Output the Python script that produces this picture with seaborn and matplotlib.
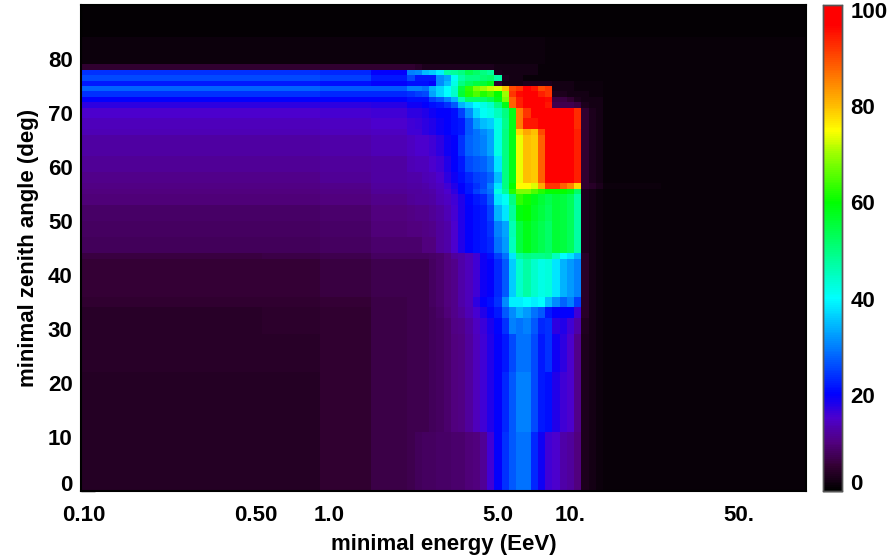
import numpy as np
import pandas as pd
import matplotlib.pyplot as plt
import matplotlib.transforms as mtrans
from matplotlib.colors import LinearSegmentedColormap
import seaborn as sns

# lower edge of each energy bin (EeV), the wide ones are the flat parts of the map
energy_low = [0.1, 0.282, 0.562, 0.977, 1.58,
              2.239, 2.399, 2.570, 2.754, 2.951, 3.162, 3.388, 3.631, 3.890, 4.169,
              4.467, 4.786, 5.129, 5.495, 5.888, 6.310, 6.761, 7.244, 7.762, 8.318,
              8.913, 9.550, 10.23, 10.96, 11.75, 12.59, 13.49, 14.45, 25.1]

# lower edge of each zenith band (deg), one row list per band below
zenith_low = [0, 11, 22, 29, 32, 34, 36, 43, 44, 47, 50, 53, 55, 56, 57, 59, 62, 66,
              67, 69, 71, 72, 73, 74, 75, 76, 77, 78, 79, 84]

z00 = [3.8, 3.6, 3.8, 5, 6.5, 7, 7.5, 8, 8, 8.5, 8.5, 9, 9, 9.5, 10, 11.5, 16, 20, 24, 27, 29, 29, 23, 19, 16, 15, 13, 12, 10, 3, 2, 1.5, 1, 0.8]
z11 = [3.7, 3.6, 3.9, 5, 6.5, 7, 7, 7, 7.5, 8, 9, 10, 10.5, 12, 14, 16, 18, 20, 23, 27, 30, 30, 26, 22, 21, 18, 16, 15, 11, 3, 2, 1.5, 1, 0.8]
z22 = [4, 4, 4.2, 5, 6.5, 7, 7, 7, 7.5, 8, 9, 10, 10.5, 12, 14, 16, 18, 20, 22, 26, 29, 29, 26, 22, 24, 19, 17, 15, 11, 3, 2, 1.5, 1, 0.8]
z29 = [4.3, 4.2, 4.5, 5, 6.5, 7, 7, 7, 7.5, 8, 9, 10.5, 11, 12.5, 14.5, 16.5, 18.5, 20.5, 24, 30, 29, 30, 27, 23, 24, 17, 18, 16, 13, 3.5, 2, 1.5, 1, 0.8]
z32 = [4.3, 4.2, 4.5, 5, 6.5, 7, 7, 7, 7.5, 8.5, 9.5, 11, 12, 13.5, 15.5, 18, 20, 22, 27, 31, 34, 32, 29, 27, 22, 20, 20, 20, 16, 4, 2, 1.5, 1, 0.8]
z34 = [5, 5, 5, 5.5, 6.5, 7, 7, 7, 8, 9, 10, 11, 13, 14, 17, 20, 21, 24, 31, 39, 39, 40, 39, 40, 35, 31, 28, 30, 25, 4, 2, 1.5, 1, 0.8]
z36 = [5.5, 5.5, 5.5, 6, 7, 7, 7, 7, 8, 9, 10, 11, 13, 14, 16, 19, 20, 23, 27, 36, 44, 47, 44, 42, 43, 38, 34, 32, 30, 4, 2, 1.5, 1, 0.8]
z43 = [6, 6, 6.5, 7, 8, 8, 8, 8, 8.5, 9, 10, 12, 13, 14, 16, 19, 21, 25, 29, 38, 48, 50, 49, 49, 50, 45, 40, 38, 34, 4, 2, 1.5, 1, 0.8]
z44 = [7.5, 7.5, 7.5, 8, 9, 9, 9, 10, 10, 12, 13, 15, 18, 20, 21, 22, 23, 29, 32, 45, 55, 58, 56, 54, 52, 56, 55, 53, 47, 3, 2, 1.5, 1, 0.8]
z47 = [8, 8, 8, 8.5, 9.5, 10, 10, 10.5, 11, 12, 13, 15, 18, 20, 21, 22, 24, 30, 33, 46, 55, 58, 56, 54, 52, 56, 55, 53, 47, 3, 2, 1.5, 1, 0.8]
z50 = [8.5, 8.5, 8.5, 9, 10, 10.5, 11, 11, 11.5, 12.5, 13.5, 15.5, 18, 20, 21, 22, 25, 34, 38, 48, 59, 60, 57, 55, 53, 56, 55, 53, 47, 3, 2, 1.5, 1, 0.8]
z53 = [9.5, 9.5, 9.5, 10, 11, 11.5, 12, 12, 12.5, 13.5, 14.5, 16, 18, 20.5, 22, 23, 27, 38, 41, 50, 63, 61, 58, 56, 54, 56, 55, 53, 47, 3, 2, 1.5, 1, 0.8]
z55 = [10, 10, 10, 10.5, 11.5, 12, 12, 12.5, 13, 14, 15, 17, 20, 22, 25, 27, 29, 42, 48, 62, 68, 68, 65, 62, 60, 60, 60, 58, 52, 3, 2, 1.5, 1, 0.8]
z56 = [10.5, 10.5, 10.5, 11, 12, 12.5, 12.5, 13, 13.5, 14.5, 16, 18, 20, 22, 24, 26, 30, 38, 50, 60, 75, 75, 73, 82, 92, 92, 88, 85, 78, 5, 4, 3, 1.5, 1]
z57 = [11, 11, 11, 11.5, 12.5, 13, 13, 13.5, 14, 15, 17, 19, 21, 23, 25, 26, 28, 35, 50, 58, 74, 80, 79, 88, 98, 100, 100, 98, 94, 5, 3, 2, 1, 1]
z59 = [11.5, 11.5, 11.5, 12, 12.5, 13.5, 14, 14, 15, 16, 18, 20, 22, 26, 27, 28, 30, 38, 50, 58, 74, 80, 79, 88, 98, 100, 100, 98, 94, 5, 3, 2, 1, 1]
z62 = [12.5, 12.5, 12.5, 13, 13.5, 14.5, 15, 15, 16, 17, 19, 20, 24, 28, 29, 30, 33, 42, 50, 58, 74, 80, 79, 88, 98, 100, 100, 98, 94, 5, 3, 2, 1, 1]
z66 = [13.5, 13.5, 13.5, 14, 14.5, 16, 16, 17, 18, 19, 20, 21, 22, 27, 29, 31, 33, 42, 50, 58, 78, 82, 80, 90, 100, 100, 100, 98, 94, 5, 3, 2, 1, 1]
z67 = [14, 14, 14, 14.5, 15, 16, 16.5, 17, 18, 19, 20, 21, 22, 27, 32, 35, 36, 42, 49, 58, 86, 95, 95, 98, 100, 100, 100, 98, 93, 5, 3, 2, 1, 1]
z69 = [15, 15, 15, 15.5, 16, 17, 17, 18, 19, 20, 20, 21, 25, 31, 37, 41, 42, 45, 50, 58, 86, 92, 97, 98, 100, 100, 100, 98, 93, 5, 3, 2, 1, 1]
z71 = [17, 17, 17, 17, 17.5, 19, 19, 20, 21, 22, 24, 27, 34, 37, 40, 42, 44, 50, 58, 88, 94, 100, 100, 97, 95, 7, 7, 7, 6, 3, 2, 2, 1, 1]
z72 = [20, 20, 20, 20, 20, 21, 21, 21, 25, 27, 30, 34, 46, 52, 52, 52, 54, 58, 68, 88, 94, 98, 100, 98, 96, 6, 6, 5, 3, 2, 2, 2, 1, 1]
z73 = [24, 24, 24, 23, 23, 24, 25, 26, 33, 37, 40, 44, 56, 62, 65, 62, 64, 60, 70, 92, 96, 100, 100, 94, 92, 3, 3, 2, 2, 2, 1.5, 1.5, 1, 1]
z74 = [28, 28, 28, 27, 27, 30, 30, 29, 34, 37, 40, 44, 55, 63, 68, 70, 72, 73, 80, 90, 92, 97, 95, 90, 92, 2, 2, 2, 1.5, 1.5, 1.5, 1.5, 1, 1]
z75 = [22, 22, 22, 21, 20, 21, 21, 21, 20, 31, 35, 42, 50, 53, 55, 56, 58, 5, 2, 2, 2, 3, 3, 3, 3, 2, 2, 2, 1.5, 1.5, 1.5, 1.5, 1, 1]
z76 = [26, 26, 26, 25, 22, 26, 22, 22, 22, 31, 33, 41, 47, 50, 50, 51, 52, 47, 3, 2, 2, 1, 1, 1, 1, 1, 1, 1, 1, 1, 1, 1, 1, 1]
z77 = [24, 24, 24, 23, 20, 30, 31, 35, 36, 39, 47, 48, 50, 54, 52, 50, 48, 3, 2, 2, 2, 2, 2, 1, 1, 1, 1, 1, 1, 1, 1, 1, 1, 1]
z78 = [5, 5, 5, 5, 5, 5, 4, 3, 3, 3, 3, 3, 3, 3, 3, 3, 3, 2, 2, 2, 2, 2, 2, 1, 1, 1, 1, 1, 1, 1, 1, 1, 1, 1]
z79 = [1.2, 1.2, 1.2, 1.2, 1.2, 1.2, 1.2, 1.2, 1.2, 1.2, 1.2, 1.2, 1.2, 1.2, 1.2, 1.2, 1.2, 1.2, 1.2, 1.2, 1.2, 1.2, 1.2, 1.2, 1, 1, 1, 1, 1, 1, 1, 1, 1, 1]
z84 = [0.5, 0.5, 0.5, 0.5, 0.5, 0.5, 0.5, 0.5, 0.5, 0.5, 0.5, 0.5, 0.5, 0.5, 0.5, 0.5, 0.5, 0.5, 0.5, 0.5, 0.5, 0.5, 0.5, 0.5, 0.5, 0.5, 0.5, 0.5, 0.5, 0.5, 0.5, 0.5, 0.5, 0.5]

bands = [z00, z11, z22, z29, z32, z34, z36, z43, z44, z47, z50, z53, z55, z56, z57, z59,
         z62, z66, z67, z69, z71, z72, z73, z74, z75, z76, z77, z78, z79, z84]

energy_ticks = [0.1, 0.5, 1.0, 5.0, 10.0, 50.0]
energy_labels = ['0.10', '0.50', '1.0', '5.0', '10.', '50.']
zenith_ticks = [0, 10, 20, 30, 40, 50, 60, 70, 80]
bar_ticks = [0, 20, 40, 60, 80, 100]

# map grid, 100 energy bins (0.03 decades each) by 90 one degree rows
log_step = 0.03
energy_grid = 0.1 * 10 ** (log_step * np.arange(100))
zenith_grid = np.arange(90)
col_idx = np.searchsorted(energy_low, energy_grid * 1.001, side='right') - 1
row_idx = np.searchsorted(zenith_low, zenith_grid, side='right') - 1
table = np.array(bands)[row_idx][:, col_idx]
df = pd.DataFrame(table, index=zenith_grid, columns=np.round(energy_grid, 3))

sns.set_style('white')
plt.rcParams['font.family'] = ['Liberation Sans']
plt.rcParams['font.weight'] = 'bold'
plt.rcParams['text.color'] = 'black'
plt.rcParams['axes.labelcolor'] = 'black'
plt.rcParams['xtick.labelcolor'] = 'black'
plt.rcParams['ytick.labelcolor'] = 'black'

vmax = 101
stops = [(0, (0, 0, 0)), (5, (0.2, 0, 0.2)), (10, (0.32, 0, 0.5)), (15, (0.3, 0, 0.8)),
         (20, (0, 0, 1)), (30, (0, 0.5, 1)), (40, (0, 1, 1)), (50, (0, 1, 0.5)),
         (60, (0, 1, 0)), (70, (0.6, 1, 0)), (75, (1, 1, 0)), (80, (1, 0.75, 0)),
         (90, (1, 0.3, 0)), (97, (1, 0, 0)), (101, (1, 0, 0))]
cmap = LinearSegmentedColormap.from_list('rainbow_dark', [(v / vmax, c) for v, c in stops], N=256)

W, H = 890, 559
fig = plt.figure(figsize=(W / 100, H / 100), dpi=100)
ax = fig.add_axes([81 / W, 1 - 491 / H, 725 / W, 486 / H])
cax = fig.add_axes([823 / W, 1 - 491 / H, 19 / W, 486 / H])

sns.heatmap(df, cmap=cmap, vmin=0, vmax=vmax, ax=ax, cbar_ax=cax, xticklabels=False, yticklabels=False)
ax.invert_yaxis()
ax.set_xlim(0, 100)
ax.set_ylim(0, 90)

fs = 16
ax.set_xticks([(np.log10(e) + 1) / log_step for e in energy_ticks])
ax.set_xticklabels(energy_labels, fontsize=fs, fontweight='bold')
ax.set_yticks(zenith_ticks)
ax.set_yticklabels([str(z) for z in zenith_ticks], fontsize=fs, fontweight='bold')
ax.tick_params(axis='x', direction='in', length=7, width=1, color='black', pad=10, bottom=True)
ax.tick_params(axis='y', direction='in', length=10, width=1, color='black', pad=6, left=True)
for s in ax.spines.values():
    s.set_visible(True)
    s.set_color('black')
    s.set_linewidth(1.5)

# labels sit a little off their ticks in the original
dx = mtrans.ScaledTranslation(6 / 100, 0, fig.dpi_scale_trans)
for lab in ax.get_xticklabels():
    lab.set_transform(lab.get_transform() + dx)
low = ax.get_yticklabels()[0]
low.set_transform(low.get_transform() + mtrans.ScaledTranslation(0, 8 / 100, fig.dpi_scale_trans))
first = ax.get_xticklabels()[0]
first.set_transform(first.get_transform() + mtrans.ScaledTranslation(-3 / 100, 0, fig.dpi_scale_trans))

ax.set_xlabel('minimal energy (EeV)', fontsize=fs, fontweight='bold', labelpad=6)
ax.set_ylabel('minimal zenith angle (deg)', fontsize=fs, fontweight='bold', labelpad=6)

cax.set_yticks(bar_ticks)
cax.set_yticklabels([str(b) for b in bar_ticks], fontsize=fs, fontweight='bold')
cax.tick_params(axis='y', direction='in', length=14, width=1, color='black', pad=6, right=True)
for s in cax.spines.values():
    s.set_visible(True)
    s.set_color('#555555')
    s.set_linewidth(1)
zero = cax.get_yticklabels()[0]
zero.set_transform(zero.get_transform() + mtrans.ScaledTranslation(0, 9 / 100, fig.dpi_scale_trans))

fig.savefig('out.png', dpi=100)
